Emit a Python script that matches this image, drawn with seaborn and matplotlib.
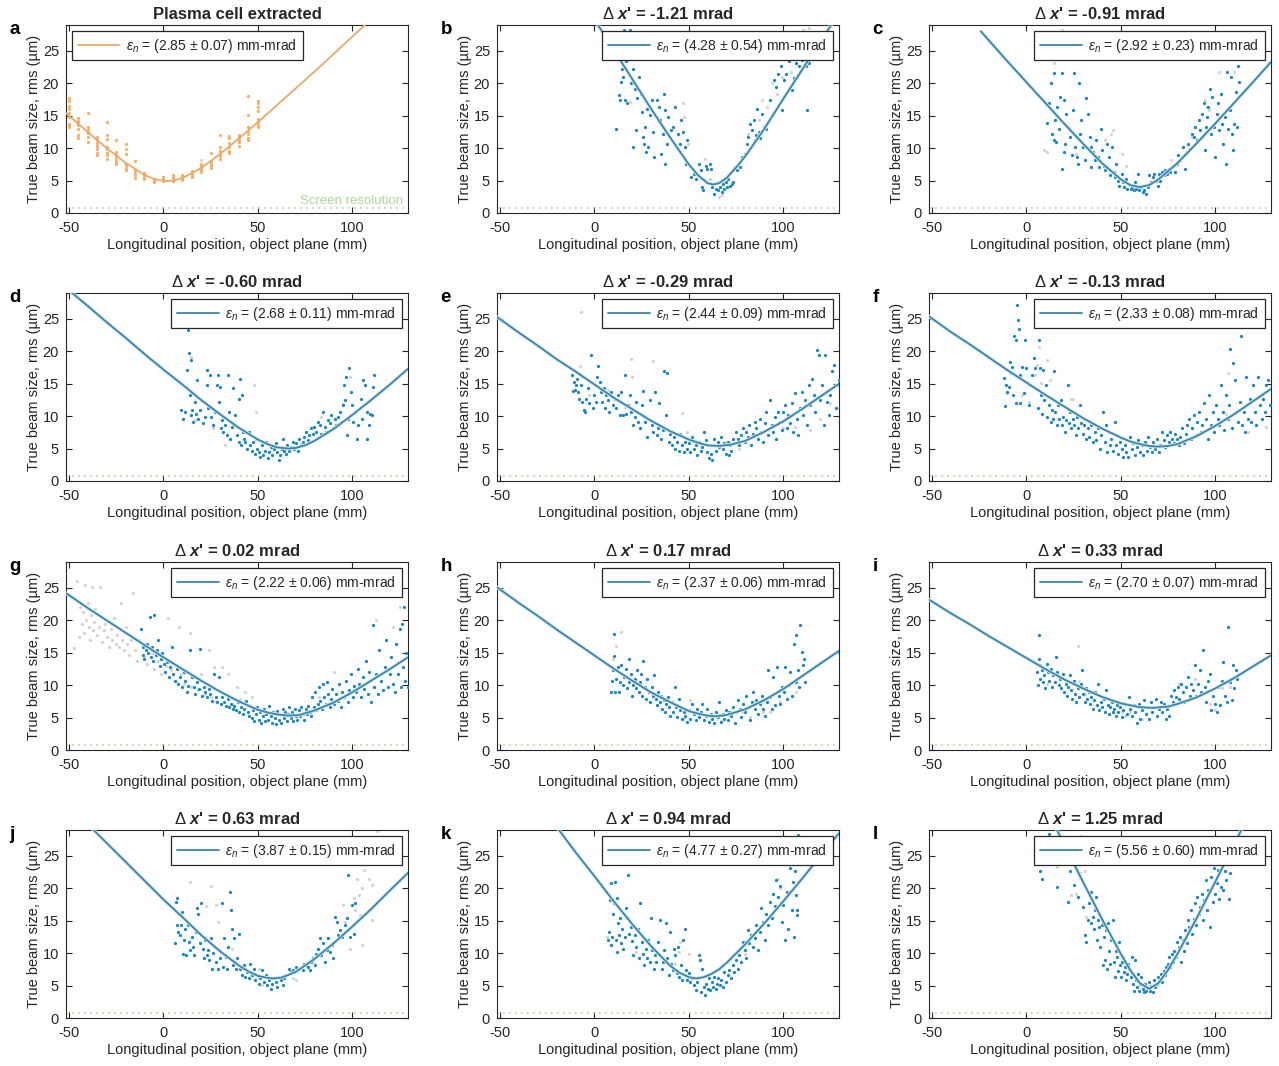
import pandas as pd
import matplotlib
matplotlib.use("Agg")
import matplotlib.pyplot as plt
import seaborn as sns

# ---------------- data ----------------
# panel a: orange shots grouped by screen position (mm), sizes in um
a_pos = [-50, -45, -40, -35, -30, -25, -20, -15, -10, -5, 0, 5, 10, 15, 20, 25, 30, 35, 40, 45, 50]
a_sizes = [
    [17.8, 17.2, 16.5, 16.0, 15.5, 14.8, 13.8, 13.5, 13.2],
    [14.7, 14.2, 13.8, 13.5, 13.0, 12.0, 11.6],
    [15.4, 13.3, 12.8, 12.3, 11.8, 11.0],
    [11.8, 11.3, 10.8, 10.3, 9.8, 9.3, 9.0],
    [14.1, 12.1, 11.4, 10.2, 9.8, 9.3, 8.9, 8.4],
    [11.3, 9.4, 9.0, 8.6, 8.2, 7.8, 7.6],
    [10.6, 9.9, 9.1, 7.6, 7.2, 6.8, 6.6],
    [8.0, 6.6, 6.2, 5.8, 5.4],
    [6.2, 5.9, 5.6, 5.3],
    [5.3, 5.0, 4.8],
    [5.6, 5.3, 5.1, 4.9],
    [5.9, 5.6, 5.3, 5.0],
    [5.9, 5.6, 5.3, 5.1],
    [6.5, 6.1, 5.8, 5.5],
    [7.6, 7.2, 7.0, 6.7, 6.4],
    [9.2, 8.0, 7.6, 7.3, 7.0],
    [12.0, 10.2, 9.6, 9.2, 8.8, 8.4],
    [11.9, 11.5, 10.8, 10.2, 9.6, 9.3],
    [12.1, 11.7, 11.3, 11.0, 10.4],
    [18.1, 15.1, 13.2, 12.6, 12.2, 11.6, 11.2],
    [17.3, 16.9, 16.3, 15.8, 14.5, 14.0, 13.6, 13.3],
]
a_grey = [(20, 8.2)]
a_fit_z = [-51.5, -40, -30, -20, -10, -5, 0, 5, 10, 20, 30, 40, 50, 60, 70, 80, 90, 100, 110]
a_fit_s = [15.4, 12.5, 10.0, 7.75, 5.9, 5.26, 4.93, 4.97, 5.37, 6.93, 9.08, 11.5, 14.0, 16.6, 19.2, 21.8, 24.5, 27.2, 29.9]

# panel b
b_pts = [(11.6, 13.0), (13, 18.2), (13.5, 17.4), (13.9, 20.2), (14.4, 22.2), (15, 21.0), (15.7, 28.2), (16.2, 17.4),
         (16.6, 23.5), (17.1, 17.0), (18.9, 28.2), (19.3, 20.0), (20.5, 22.2), (20.7, 10.2), (21.4, 19.2), (21.9, 12.8),
         (22.8, 17.8), (23.4, 21.0), (24.6, 18.4), (25.1, 15.6), (26.0, 11.7), (26.4, 10.7), (26.7, 13.3), (27.3, 9.4),
         (27.8, 16.1), (28.5, 10.2), (29.6, 15.1), (30.3, 17.4), (30.8, 12.5), (31.7, 8.6), (33.2, 17.4), (34.0, 16.4),
         (34.8, 14.3), (35.3, 9.1), (36.2, 12.2), (36.7, 18.4), (37.4, 15.9), (37.6, 7.6), (38.5, 10.7), (39.2, 14.8),
         (40.6, 12.8), (41.5, 13.3), (42.8, 16.4), (44.2, 12.2), (45.1, 10.7), (46.0, 14.3), (46.9, 12.5), (47.8, 10.2),
         (48.7, 7.6), (49.2, 11.2), (51.3, 5.5), (52.8, 6.0), (54, 5.2), (55.3, 7.6), (56.3, 6.6), (57.0, 4.0),
         (57.6, 3.5), (58.5, 5.0), (59.0, 7.3), (59.9, 6.8), (61.1, 7.6), (61.7, 6.8), (62.4, 4.0), (63.3, 2.9),
         (64.2, 3.7), (65.2, 3.5), (66.7, 4.0), (67.4, 3.2), (68.3, 4.5), (68.8, 3.7), (69.5, 4.8), (70.2, 4.0),
         (70.9, 5.3), (71.8, 4.2), (72.7, 4.5), (73.6, 4.8), (74.5, 7.1), (75.4, 6.6), (77.2, 7.1), (78.1, 8.6),
         (79.5, 9.1), (80.7, 10.7), (81.6, 11.7), (82.5, 13.8), (83.4, 12.8), (84.3, 14.3), (84.8, 11.2), (85.6, 12.0),
         (86.1, 16.1), (87.0, 12.5), (87.9, 11.5), (88.8, 15.3), (89.7, 13.3), (90.9, 13.0), (92.3, 14.3), (93.2, 17.4),
         (95.0, 20.5), (95.9, 19.5), (97.3, 21.5), (98.6, 22.6), (99.5, 15.9), (100.4, 20.5), (101.2, 21.5), (103.0, 23.4),
         (104.8, 19.0), (105.7, 20.8), (106.6, 23.1), (108.4, 22.6), (109.8, 23.6), (111.0, 23.9), (111.9, 22.6),
         (112.8, 15.9), (113.7, 23.1)]
b_grey = [(19.1, 17.1), (46.9, 16.9), (47.4, 14.8), (49.6, 10.7), (58.5, 8.4), (61.1, 5.3), (65.9, 2.4), (67.4, 2.7),
          (81.6, 12.2), (87, 14.3), (88.8, 17.4), (91.4, 16.4), (94.1, 20.0), (96.8, 18.4), (99.5, 21.0), (103.9, 21.8),
          (110.2, 28.2), (113.7, 28.5)]
b_fit_z = [0, 10, 20, 30, 40, 50, 55, 60, 63, 66, 70, 75, 80, 90, 100, 110, 120, 126]
b_fit_s = [29.9, 25.3, 20.7, 16.1, 11.7, 7.5, 5.8, 4.6, 4.4, 4.6, 5.4, 7.0, 8.8, 13.0, 17.6, 22.1, 26.6, 29.3]

# panel c
c_pts = [(11.2, 13.9), (12.1, 16.9), (12.9, 20.1), (13.5, 12.2), (14.4, 21.6), (14.7, 11.2), (15.1, 14.4), (15.8, 11.0),
         (16.5, 16.4), (17.1, 13.0), (18.0, 17.9), (18.7, 6.8), (19.1, 21.6), (19.8, 17.4), (20.1, 9.4), (20.7, 10.7),
         (21.2, 15.3), (22.3, 13.3), (23.2, 11.7), (24.1, 8.9), (24.8, 15.9), (25.5, 21.6), (25.9, 10.2), (26.6, 8.6),
         (27.3, 7.6), (27.7, 20.0), (28.6, 12.2), (29.1, 14.3), (30.0, 10.2), (30.9, 8.1), (31.8, 17.7), (32.7, 15.3),
         (33.5, 11.7), (34.0, 10.2), (34.5, 7.1), (35.4, 9.4), (36.3, 8.1), (37.1, 11.2), (37.8, 8.6), (38.5, 7.1),
         (39.4, 13.0), (40.3, 9.7), (41.0, 7.3), (41.7, 6.6), (42.6, 10.7), (43.5, 8.6), (44.4, 5.8), (45.3, 10.2),
         (46.2, 6.3), (47.1, 5.5), (47.5, 7.6), (48.6, 5.0), (49.3, 4.2), (50.4, 6.0), (51.1, 4.8), (51.8, 4.0),
         (52.5, 5.3), (53.4, 3.7), (54.3, 4.5), (55.2, 3.7), (56.1, 4.0), (56.8, 3.5), (57.6, 4.8), (58.3, 3.7),
         (59.0, 6.0), (59.7, 3.5), (60.6, 4.0), (61.5, 3.2), (62.4, 3.5), (63.3, 2.9), (64.2, 4.0), (65.1, 5.8),
         (66.0, 4.8), (66.9, 5.5), (67.8, 6.0), (68.7, 5.0), (69.6, 4.2), (70.1, 6.0), (71.0, 5.0), (71.8, 6.3),
         (72.7, 5.8), (73.6, 6.6), (74.5, 6.0), (75.4, 6.8), (76.3, 6.3), (77.3, 7.1), (78.6, 6.3), (79.5, 7.6),
         (80.4, 8.9), (81.3, 8.1), (82.2, 8.6), (83.1, 10.2), (84.0, 6.8), (84.9, 9.4), (85.8, 10.7), (86.7, 9.9),
         (87.6, 12.2), (88.5, 11.7), (89.4, 13.3), (90.3, 11.2), (91.2, 14.3), (92.1, 12.8), (93.0, 15.3), (93.9, 16.9),
         (94.4, 9.7), (95.0, 13.3), (95.7, 14.8), (96.4, 16.4), (97.1, 19.2), (97.8, 12.2), (98.4, 17.9), (99.3, 13.3),
         (100.0, 8.6), (100.7, 15.3), (101.4, 16.9), (102.2, 12.8), (102.9, 18.4), (103.6, 13.8), (104.3, 10.7),
         (105.0, 14.8), (105.6, 7.6), (106.1, 21.8), (106.8, 13.0), (107.6, 15.9), (108.3, 21.0), (108.8, 12.2),
         (109.4, 9.7), (110.1, 13.8), (110.8, 18.7), (111.5, 13.3), (112.2, 22.6), (112.8, 20.2)]
c_grey = [(9.4, 9.7), (10.8, 9.4), (14.7, 23.1), (18.7, 28.3), (26.4, 9.1), (41.7, 11.2), (44.8, 12.2), (45.7, 12.8),
          (50.7, 9.1), (52.5, 7.3), (76.8, 8.1), (87.6, 11.7), (94.8, 17.4), (95.7, 16.4), (96.6, 15.9), (102.0, 21.8),
          (109.7, 21.8)]
c_fit_z = [-24, -10, 0, 10, 20, 30, 40, 50, 55, 60, 65, 70, 80, 90, 100, 110, 120, 129.5]
c_fit_s = [28.0, 23.4, 20.2, 17.0, 13.8, 10.7, 7.7, 5.2, 4.3, 4.0, 4.3, 5.2, 7.7, 10.7, 13.8, 17.0, 20.2, 23.3]

# panel d
d_pts = [(9.5, 10.9), (10.4, 9.6), (11.3, 10.7), (12.1, 14.5), (12.7, 17.1), (13.0, 23.3), (13.4, 19.7), (13.9, 13.2),
         (14.5, 18.7), (14.8, 10.2), (15.4, 10.9), (15.9, 9.1), (16.6, 12.2), (17.5, 10.4), (18.0, 15.6), (18.4, 9.6),
         (19.3, 10.9), (20.2, 12.5), (21.1, 8.9), (22.0, 9.9), (22.9, 17.1), (23.2, 14.8), (23.8, 11.2), (24.6, 16.3),
         (25.5, 9.9), (26.4, 8.6), (27.3, 10.7), (28.2, 14.8), (28.8, 16.3), (29.5, 12.2), (30.0, 14.5), (30.5, 8.1),
         (31.3, 9.4), (31.8, 7.6), (32.7, 8.6), (33.6, 7.1), (34.5, 16.3), (34.8, 10.7), (35.4, 6.5), (36.3, 8.4),
         (37.1, 14.3), (38.0, 10.2), (38.9, 7.1), (39.8, 12.7), (40.2, 6.0), (40.7, 15.8), (41.3, 5.5), (41.6, 13.2),
         (42.1, 7.6), (42.7, 6.5), (43.4, 6.0), (44.3, 5.0), (45.2, 7.6), (46.1, 5.5), (47.0, 4.7), (47.5, 6.0),
         (48.4, 4.2), (49.1, 6.5), (49.8, 5.0), (50.5, 4.5), (51.4, 3.7), (52.3, 5.5), (53.0, 4.0), (53.8, 4.7),
         (54.5, 6.0), (55.2, 3.5), (55.9, 4.5), (56.8, 5.3), (57.7, 4.0), (58.6, 5.0), (59.5, 5.8), (60.4, 4.5),
         (61.3, 3.2), (61.8, 4.0), (62.7, 5.0), (63.4, 6.5), (64.1, 4.7), (64.8, 4.2), (65.7, 5.5), (66.6, 4.7),
         (67.5, 5.3), (68.4, 6.0), (69.3, 5.0), (70.2, 5.8), (71.1, 4.7), (72.0, 6.5), (72.9, 5.5), (73.8, 6.0),
         (74.6, 6.8), (75.5, 7.6), (76.4, 6.3), (77.3, 7.1), (78.2, 8.1), (79.1, 7.3), (80.0, 8.4), (80.9, 7.6),
         (81.8, 9.1), (82.7, 8.6), (83.6, 7.3), (84.5, 10.7), (85.4, 8.4), (86.3, 7.6), (87.1, 9.4), (88.0, 8.9),
         (88.9, 10.2), (89.8, 8.1), (90.7, 9.6), (91.6, 8.6), (92.5, 9.9), (93.4, 10.7), (94.3, 9.1), (95.2, 11.7),
         (95.7, 14.8), (96.3, 12.5), (96.6, 16.1), (97.3, 7.1), (97.9, 9.6), (98.4, 17.4), (99.1, 13.8), (99.6, 11.7),
         (100.5, 9.1), (101.4, 10.7), (102.3, 6.5), (103.2, 8.6), (104.1, 11.2), (104.6, 12.7), (105.4, 9.6),
         (105.9, 15.6), (106.8, 14.8), (107.7, 10.7), (108.0, 6.5), (108.8, 8.6), (109.5, 10.4), (110.4, 10.2),
         (110.9, 14.5), (111.6, 16.3)]
d_grey = [(14.8, 19.2), (16.6, 9.4), (26.4, 8.1), (32.7, 5.5), (47.9, 14.8), (48.8, 10.7), (83.6, 9.9), (95.2, 11.9),
          (98.8, 16.1)]
d_fit_z = [-51.5, -40, -30, -20, -10, 0, 10, 20, 30, 40, 50, 55, 60, 66, 70, 75, 80, 90, 100, 110, 120, 129.5]
d_fit_s = [29.8, 27.0, 24.5, 22.1, 19.6, 17.2, 14.9, 12.5, 10.3, 8.2, 6.4, 5.7, 5.2, 5.0, 5.1, 5.5, 6.2, 8.0, 10.2,
           12.5, 14.9, 17.3]

# panel e
e_pts = [(-11.6, 16.3), (-11.1, 13.9), (-10.7, 15.3), (-10.4, 14.0), (-9.6, 14.8), (-8.9, 15.8), (-8.6, 13.8),
         (-8.0, 12.7), (-7.1, 14.8), (-6.4, 12.2), (-5.7, 10.9), (-5.0, 10.7), (-4.3, 12.7), (-3.6, 14.3), (-2.7, 12.0),
         (-1.8, 19.5), (-0.9, 11.2), (0.0, 13.2), (0.9, 12.2), (1.4, 16.1), (2.1, 17.8), (2.9, 15.3), (3.6, 13.8),
         (4.3, 12.2), (5.0, 14.3), (5.7, 11.2), (6.4, 13.2), (7.1, 12.5), (8.0, 10.7), (8.9, 13.8), (9.8, 11.7),
         (10.7, 12.7), (11.6, 11.2), (12.5, 13.2), (13.4, 10.2), (14.3, 13.8), (15.2, 10.2), (16.1, 16.4), (17.0, 10.4),
         (17.9, 11.7), (18.8, 13.2), (19.6, 10.7), (20.5, 8.6), (21.4, 9.9), (22.3, 12.2), (23.2, 9.1), (24.1, 8.1),
         (25.0, 11.7), (25.9, 13.9), (26.8, 9.1), (27.7, 6.8), (28.6, 9.6), (29.5, 12.5), (30.4, 8.6), (31.3, 7.6),
         (32.1, 13.8), (33.0, 7.1), (33.9, 8.1), (34.5, 12.0), (35.4, 6.5), (36.1, 7.8), (37.0, 16.9), (37.7, 10.2),
         (38.4, 16.6), (39.3, 6.0), (40.2, 7.3), (41.1, 5.5), (42.0, 6.8), (42.9, 5.0), (43.8, 6.0), (44.6, 4.7),
         (45.5, 7.3), (46.4, 5.5), (47.3, 4.5), (48.2, 6.0), (49.1, 5.0), (50.0, 5.8), (50.9, 4.5), (51.8, 6.8),
         (52.7, 5.0), (53.6, 5.5), (54.5, 4.0), (55.4, 6.0), (56.3, 4.7), (57.1, 5.3), (58.0, 7.6), (58.9, 6.3),
         (59.8, 4.5), (60.7, 3.5), (61.6, 4.2), (62.1, 3.2), (62.9, 5.5), (63.6, 6.5), (64.3, 4.7), (65.2, 6.0),
         (66.1, 5.3), (67.0, 6.8), (67.9, 5.0), (68.8, 5.8), (69.6, 4.2), (70.5, 6.0), (71.1, 4.0), (71.8, 5.5),
         (72.5, 4.7), (73.2, 6.5), (74.1, 5.8), (75.0, 7.6), (75.9, 6.5), (76.8, 5.5), (77.7, 7.1), (78.6, 8.1),
         (79.5, 6.0), (80.4, 7.6), (81.3, 6.8), (82.1, 8.6), (83.0, 5.5), (83.9, 7.3), (84.8, 9.1), (85.7, 8.1),
         (86.6, 6.5), (87.5, 9.6), (88.4, 7.6), (89.3, 6.0), (90.2, 8.9), (91.1, 10.7), (92.0, 7.1), (92.9, 12.5),
         (93.8, 8.6), (94.6, 7.6), (95.5, 9.9), (96.4, 6.5), (97.3, 10.7), (98.2, 9.1), (99.1, 7.8), (100.0, 10.7),
         (100.9, 11.7), (101.8, 8.1), (102.7, 10.2), (103.6, 8.9), (104.5, 12.0), (105.4, 7.6), (106.2, 13.5),
         (107.1, 9.6), (108.0, 7.1), (108.9, 11.2), (109.8, 13.8), (110.7, 10.2), (111.6, 12.5), (112.5, 8.6),
         (113.4, 14.8), (114.3, 11.7), (115.2, 15.8), (116.1, 13.2), (117.0, 10.7), (117.9, 20.2), (118.8, 19.4),
         (119.6, 12.5), (120.5, 14.8), (121.4, 8.6), (122.3, 19.4), (123.2, 12.2), (124.1, 10.2), (125.0, 13.2),
         (125.9, 16.9), (126.8, 17.9), (127.7, 11.2), (128.6, 14.8), (129.3, 15.6)]
e_grey = [(-6.8, 26.0), (-7.5, 17.7), (-2.7, 13.2), (7.1, 14.0), (16.1, 11.2), (19.6, 18.8), (20.0, 16.1), (31.3, 18.5),
          (46.4, 10.5), (49.1, 7.6), (67.9, 5.5), (76.8, 5.0), (100, 8.1), (106.2, 8.4), (114.3, 7.8), (119.6, 9.6),
          (125, 12.0)]
e_fit_z = [-51.5, -40, -30, -20, -10, 0, 10, 20, 30, 40, 50, 55, 60, 66, 72, 80, 90, 100, 110, 120, 129.5]
e_fit_s = [25.3, 22.9, 20.9, 18.8, 16.9, 14.9, 12.9, 11.1, 9.3, 7.7, 6.4, 5.9, 5.5, 5.4, 5.6, 6.2, 7.6, 9.2, 11.1,
           13.1, 15.0]

# panel f
f_pts = [(-11.6, 15.9), (-11.3, 11.6), (-10.7, 14.8), (-10.0, 13.8), (-9.3, 14.5), (-8.6, 18.4), (-8.0, 16.6),
         (-7.5, 17.6), (-6.8, 13.2), (-6.3, 22.4), (-5.7, 21.8), (-5.4, 12.0), (-5.0, 27.2), (-4.5, 24.8), (-4.1, 23.5),
         (-3.6, 12.0), (-3.2, 16.3), (-2.3, 17.6), (-1.4, 13.5), (-0.5, 21.8), (0.0, 17.4), (0.7, 15.1), (1.4, 11.7),
         (2.1, 14.8), (3.0, 16.3), (3.9, 18.9), (4.8, 17.4), (5.4, 14.2), (6.1, 11.2), (6.6, 21.8), (7.1, 17.4),
         (7.9, 13.2), (8.4, 10.4), (8.9, 17.1), (9.6, 12.5), (10.4, 14.8), (11.1, 9.9), (12.0, 11.7), (12.9, 9.1),
         (13.4, 10.9), (14.1, 9.6), (14.6, 16.9), (15.4, 10.7), (16.1, 8.6), (16.8, 11.7), (17.5, 9.6), (18.2, 12.5),
         (18.9, 8.6), (19.6, 9.9), (20.4, 7.6), (21.1, 9.4), (21.8, 14.8), (22.5, 8.9), (23.2, 10.7), (23.9, 8.1),
         (24.6, 9.6), (25.4, 8.6), (26.1, 7.1), (26.8, 9.9), (27.5, 8.1), (28.2, 11.7), (28.9, 8.9), (29.8, 7.3),
         (30.7, 8.6), (31.6, 6.5), (32.5, 8.1), (33.4, 6.8), (34.3, 8.6), (35.2, 6.0), (36.1, 7.6), (37.0, 6.3),
         (37.9, 8.1), (38.8, 5.0), (39.6, 7.1), (40.5, 10.7), (41.4, 6.0), (42.3, 8.6), (42.9, 4.5), (43.6, 7.6),
         (44.3, 5.5), (45.0, 6.5), (45.9, 4.7), (46.8, 9.1), (47.7, 5.5), (48.6, 4.2), (49.5, 6.0), (50.4, 5.0),
         (51.3, 3.7), (52.1, 5.5), (53.0, 4.5), (53.9, 3.7), (54.8, 6.8), (55.7, 5.0), (56.6, 5.8), (57.5, 4.0),
         (58.4, 5.3), (59.3, 6.3), (60.2, 4.5), (61.1, 5.5), (62.0, 4.0), (62.9, 6.0), (63.8, 4.7), (64.6, 6.8),
         (65.5, 5.3), (66.4, 4.5), (67.3, 6.0), (68.2, 5.0), (69.1, 6.5), (70.0, 4.5), (70.9, 5.5), (71.8, 7.6),
         (72.7, 6.3), (73.6, 5.3), (74.5, 7.1), (75.4, 6.0), (76.3, 7.6), (77.1, 6.5), (78.0, 5.8), (78.9, 7.3),
         (79.8, 6.5), (80.7, 5.5), (81.6, 6.8), (82.5, 8.1), (83.4, 5.8), (84.3, 7.3), (85.2, 8.6), (86.1, 9.6),
         (87.0, 6.5), (87.9, 8.1), (88.8, 10.2), (89.6, 7.1), (90.5, 9.1), (91.4, 10.7), (92.3, 7.6), (93.2, 8.6),
         (94.1, 12.0), (95.0, 9.6), (95.9, 6.5), (96.8, 13.2), (97.7, 8.6), (98.6, 10.7), (99.5, 7.6), (100.4, 11.7),
         (101.3, 9.6), (102.1, 8.6), (103.0, 14.8), (103.9, 10.7), (104.8, 7.8), (105.7, 13.2), (106.6, 9.6),
         (107.5, 11.7), (108.0, 20.4), (108.9, 8.1), (109.6, 18.2), (110.4, 15.6), (111.1, 10.7), (112.0, 9.1),
         (112.9, 12.2), (113.4, 22.3), (114.1, 8.6), (115.0, 10.7), (115.7, 7.6), (116.4, 16.1), (117.3, 9.6),
         (118.2, 12.7), (119.1, 9.1), (120.0, 14.8), (120.9, 10.7), (121.8, 8.6), (122.7, 16.1), (123.6, 11.7),
         (124.5, 9.6), (125.4, 12.7), (126.3, 10.7), (127.1, 14.8), (128.0, 15.6), (128.9, 11.7)]
f_grey = [(-10, 13.5), (-2.3, 13.2), (1.2, 12.2), (4.8, 16.3), (5.4, 17.9), (6.6, 20.6), (7.9, 15.1), (10.7, 18.7),
          (12.5, 15.6), (23.6, 12.7), (24.5, 12.7), (106.6, 16.6), (105.7, 10.4), (117.3, 7.6), (127.1, 8.4)]
f_fit_z = [-51.5, -40, -30, -20, -10, 0, 10, 20, 30, 40, 50, 55, 60, 65, 70, 75, 80, 90, 100, 110, 120, 129.5]
f_fit_s = [25.4, 23.0, 21.1, 19.1, 17.1, 15.2, 13.3, 11.5, 9.7, 8.1, 6.7, 6.1, 5.7, 5.4, 5.3, 5.4, 5.7, 6.9, 8.5,
           10.3, 12.3, 14.2]

# panel g
g_pts = [(-11.6, 18.7), (-11.0, 15.9), (-10.5, 14.6), (-10.1, 14.1), (-9.4, 15.4), (-8.7, 16.4), (-7.9, 14.9),
         (-7.3, 20.5), (-6.6, 14.3), (-6.0, 15.9), (-5.3, 13.8), (-4.8, 20.8), (-4.1, 14.6), (-3.4, 15.4), (-2.7, 16.9),
         (-2.0, 13.0), (-1.2, 14.1), (-0.5, 14.9), (0.2, 13.3), (1.1, 12.0), (2.0, 13.6), (2.8, 11.2), (3.7, 12.8),
         (4.4, 15.9), (5.3, 11.7), (6.2, 10.7), (7.1, 12.5), (8.0, 10.2), (8.9, 11.2), (9.8, 9.7), (10.7, 12.0),
         (11.6, 10.7), (12.5, 8.9), (13.3, 9.9), (14.2, 15.4), (15.1, 11.2), (16.0, 9.7), (16.9, 8.6), (17.8, 10.5),
         (18.7, 9.4), (19.6, 15.6), (20.5, 8.4), (21.4, 9.7), (22.2, 8.9), (23.1, 8.1), (24.0, 9.4), (24.9, 8.6),
         (25.8, 7.6), (26.9, 11.7), (27.8, 8.1), (28.6, 7.4), (29.5, 11.2), (30.4, 7.1), (31.3, 8.1), (32.2, 7.4),
         (33.1, 6.8), (34.0, 7.9), (34.9, 6.6), (35.8, 7.1), (36.7, 6.3), (37.5, 6.8), (38.4, 6.1), (39.3, 7.4),
         (40.2, 5.8), (41.1, 6.6), (42.0, 5.5), (42.9, 6.3), (43.8, 7.6), (44.7, 5.8), (45.4, 5.3), (46.1, 6.8),
         (46.8, 5.0), (47.5, 6.1), (48.2, 4.5), (48.9, 5.5), (49.6, 6.6), (50.4, 4.7), (51.1, 5.8), (51.8, 4.2),
         (52.5, 5.3), (53.2, 6.3), (53.9, 4.5), (54.6, 5.5), (55.3, 4.7), (56.0, 6.8), (56.8, 5.3), (57.5, 4.2),
         (58.2, 5.8), (58.9, 5.0), (59.6, 4.0), (60.3, 6.0), (61.0, 4.7), (61.7, 5.5), (62.5, 4.2), (63.2, 6.3),
         (63.9, 5.0), (64.6, 5.8), (65.3, 4.5), (66.0, 5.5), (66.7, 6.6), (67.4, 5.0), (68.1, 5.8), (68.9, 4.5),
         (69.6, 6.3), (70.3, 5.3), (71.0, 4.7), (71.7, 6.1), (72.4, 5.3), (73.1, 6.6), (73.8, 5.5), (74.6, 4.7),
         (75.3, 6.3), (76.0, 5.5), (76.7, 6.8), (77.4, 5.8), (78.1, 5.3), (78.8, 8.1), (79.5, 6.6), (80.2, 8.9),
         (81.0, 6.1), (81.7, 7.1), (82.4, 9.7), (83.1, 7.6), (83.8, 6.3), (84.5, 10.2), (85.2, 8.1), (85.9, 7.1),
         (86.7, 10.5), (87.4, 8.6), (88.1, 6.6), (88.8, 7.9), (89.5, 9.4), (90.4, 7.1), (91.3, 8.6), (92.2, 7.6),
         (93.1, 10.2), (94.0, 6.6), (94.8, 8.9), (95.7, 8.1), (96.6, 10.7), (97.5, 7.4), (98.4, 9.2), (99.3, 11.7),
         (100.2, 8.1), (101.1, 9.9), (102.0, 8.9), (102.8, 12.5), (103.7, 10.2), (104.6, 8.1), (105.5, 11.2),
         (106.4, 9.4), (107.3, 13.8), (108.2, 8.6), (109.1, 12.0), (110.0, 7.4), (110.9, 19.3), (111.7, 9.7),
         (112.6, 11.7), (113.5, 8.6), (114.4, 15.4), (115.3, 10.7), (116.2, 9.2), (117.1, 12.8), (118.0, 16.9),
         (118.9, 9.7), (119.8, 11.7), (120.6, 14.3), (121.5, 10.2), (122.4, 8.9), (123.3, 16.4), (124.2, 11.7),
         (125.1, 18.7), (125.6, 9.7), (126.2, 19.5), (126.9, 12.8), (127.4, 22.1), (128.0, 10.7), (128.6, 14.9),
         (129.3, 9.7)]
g_grey = [(-47.5, 15.8), (-45.7, 26.0), (-44.8, 17.4), (-43.9, 22.1), (-43.1, 19.5), (-42.5, 21.3), (-41.8, 18.0),
          (-41.3, 25.5), (-40.7, 20.0), (-40.0, 22.6), (-39.5, 19.0), (-39.0, 16.9), (-38.3, 20.8), (-37.7, 25.2),
          (-37.2, 18.5), (-36.5, 19.8), (-36.0, 21.8), (-35.1, 17.7), (-34.2, 19.0), (-33.6, 25.2), (-32.9, 20.5),
          (-32.2, 16.7), (-31.5, 18.5), (-30.6, 19.5), (-29.7, 17.4), (-28.8, 15.9), (-27.9, 18.7), (-27.0, 16.9),
          (-26.2, 20.3), (-25.3, 16.4), (-24.4, 17.7), (-23.5, 15.9), (-22.6, 22.6), (-21.7, 16.9), (-20.8, 15.4),
          (-19.9, 19.0), (-19.0, 16.4), (-18.1, 14.6), (-17.3, 16.9), (-15.8, 24.2), (-15.1, 15.4), (-14.1, 13.8),
          (-12.8, 16.9), (-10.1, 14.3), (-8.4, 13.3), (-6.2, 14.9), (-4.8, 12.5), (-2.7, 13.8), (-1.2, 11.7),
          (1.4, 13.0), (2.3, 20.3), (4.1, 12.3), (6.8, 10.7), (8.5, 19.0), (9.4, 11.7), (11.2, 10.2), (13.9, 18.0),
          (14.8, 9.7), (16.5, 11.2), (18.3, 9.2), (20.1, 11.7), (21.9, 8.6), (24.0, 15.4), (25.4, 8.1), (26.9, 12.8),
          (28.1, 7.6), (30.8, 12.8), (32.6, 8.6), (34.3, 11.7), (36.1, 7.1), (38.8, 9.7), (40.6, 7.9), (43.2, 8.9),
          (46.8, 8.1), (82.4, 8.1), (90.4, 12.0), (100.2, 9.2), (112.6, 20.0), (121.5, 19.0), (125.1, 22.1)]
g_fit_z = [-51.5, -40, -30, -20, -10, 0, 10, 20, 30, 40, 50, 55, 60, 66, 72, 80, 90, 100, 110, 120, 129.5]
g_fit_s = [24.2, 21.9, 20.0, 18.1, 16.2, 14.3, 12.5, 10.7, 9.0, 7.5, 6.2, 5.8, 5.5, 5.3, 5.4, 6.1, 7.3, 8.9, 10.7,
           12.5, 14.3]

# panel h
h_pts = [(8.8, 9.0), (9.1, 10.7), (9.7, 12.3), (10.2, 14.5), (10.6, 17.9), (11.1, 8.9), (11.6, 11.0), (12.4, 12.8),
         (12.9, 8.9), (13.4, 10.5), (14.2, 13.1), (14.7, 11.8), (15.4, 10.0), (15.9, 11.3), (16.7, 12.5), (17.4, 9.5),
         (18.1, 14.1), (18.6, 10.5), (19.2, 11.8), (19.9, 8.4), (20.6, 10.0), (21.3, 11.0), (22.0, 9.5), (22.8, 12.3),
         (23.5, 8.9), (24.2, 10.5), (24.9, 11.8), (25.4, 8.4), (26.0, 13.8), (26.7, 9.7), (27.4, 7.9), (28.1, 11.0),
         (28.9, 8.9), (29.6, 7.4), (30.3, 9.7), (31.0, 8.4), (31.7, 11.5), (32.4, 7.9), (33.2, 6.9), (33.9, 8.9),
         (34.6, 7.4), (35.3, 8.4), (36.0, 6.4), (36.7, 7.7), (37.5, 5.9), (38.2, 7.1), (38.9, 8.2), (39.6, 6.6),
         (40.3, 5.3), (41.0, 7.4), (41.8, 5.9), (42.5, 9.7), (43.2, 6.6), (43.9, 5.1), (44.6, 7.9), (45.5, 6.1),
         (46.4, 4.8), (47.3, 5.9), (48.2, 5.3), (49.1, 4.3), (50.0, 6.1), (50.9, 4.8), (51.8, 7.1), (52.7, 5.6),
         (53.6, 4.6), (54.5, 6.4), (55.4, 5.1), (56.3, 5.9), (57.2, 7.1), (58.1, 4.6), (59.0, 5.3), (59.9, 6.4),
         (60.8, 4.3), (61.6, 5.6), (62.5, 4.8), (63.4, 4.1), (64.3, 5.9), (65.2, 5.1), (66.1, 7.4), (67.0, 4.3),
         (67.9, 5.6), (68.8, 4.8), (69.7, 6.1), (70.6, 4.6), (71.5, 5.9), (72.4, 5.3), (73.3, 6.6), (74.2, 4.1),
         (75.1, 5.9), (76.0, 7.7), (76.9, 6.4), (77.8, 5.1), (78.7, 7.1), (79.6, 5.9), (80.5, 8.4), (81.4, 6.6),
         (82.3, 4.6), (83.2, 7.4), (84.1, 8.9), (84.9, 6.4), (85.8, 7.7), (86.7, 5.6), (87.6, 7.1), (88.5, 8.4),
         (89.4, 6.4), (90.3, 5.3), (91.2, 7.4), (92.1, 12.3), (93.0, 8.2), (93.9, 6.4), (94.8, 11.3), (95.7, 6.9),
         (96.6, 12.8), (97.5, 8.4), (98.4, 7.1), (99.3, 9.7), (100.2, 8.9), (101.1, 12.8), (102.0, 7.9), (102.9, 10.0),
         (103.8, 12.0), (104.7, 8.4), (105.6, 16.4), (106.5, 10.5), (107.0, 17.8), (107.7, 12.3), (108.2, 9.7),
         (109.1, 19.3), (109.7, 15.1), (110.2, 13.1), (110.9, 14.1), (111.5, 10.5)]
h_grey = [(11.5, 16.0), (14.2, 18.2), (9.7, 14.1), (50.9, 7.7), (47.3, 4.9), (67, 4.5), (78.7, 5.9), (82.3, 5.1),
          (89.4, 5.9), (93, 5.8), (98.4, 7.4), (107, 8.9)]
h_fit_z = [-51.5, -40, -30, -20, -10, 0, 10, 20, 30, 40, 50, 55, 60, 64, 70, 80, 90, 100, 110, 120, 129.5]
h_fit_s = [25.1, 22.7, 20.7, 18.6, 16.6, 14.6, 12.6, 10.7, 8.9, 7.4, 6.0, 5.6, 5.3, 5.2, 5.4, 6.3, 7.7, 9.4, 11.4,
           13.4, 15.3]

# panel i
i_pts = [(5.7, 12.0), (6.1, 10.0), (6.5, 17.8), (6.8, 14.1), (7.2, 11.0), (7.5, 13.1), (8.1, 12.3), (8.6, 10.5),
         (9.3, 11.5), (10.0, 9.5), (10.8, 13.3), (11.5, 12.0), (12.2, 10.7), (12.9, 12.5), (13.6, 9.7), (14.3, 11.5),
         (15.1, 10.5), (15.8, 14.3), (16.5, 12.0), (17.2, 10.0), (17.9, 11.0), (18.6, 9.5), (19.4, 11.8), (20.1, 8.9),
         (20.8, 10.2), (21.5, 8.4), (22.2, 9.7), (22.9, 11.5), (23.7, 9.2), (24.4, 7.9), (25.1, 10.7), (25.8, 8.7),
         (26.5, 7.4), (27.2, 9.5), (28.0, 8.2), (28.7, 10.2), (29.4, 12.3), (30.1, 8.7), (30.8, 7.4), (31.5, 9.5),
         (32.3, 7.9), (33.0, 8.9), (33.7, 7.1), (34.4, 8.2), (35.1, 6.4), (35.8, 7.7), (36.6, 8.9), (37.3, 6.9),
         (38.0, 10.2), (38.7, 6.1), (39.4, 7.4), (40.1, 6.6), (40.9, 7.9), (41.6, 5.9), (42.3, 9.2), (43.0, 6.9),
         (43.7, 5.6), (44.4, 6.6), (45.2, 7.4), (45.9, 5.9), (46.6, 6.4), (47.3, 5.3), (48.0, 6.9), (48.7, 5.9),
         (49.6, 6.6), (50.5, 5.1), (51.4, 6.1), (52.3, 7.1), (53.2, 5.6), (54.1, 8.2), (55.0, 6.4), (55.9, 5.3),
         (56.8, 6.9), (57.7, 5.9), (58.6, 4.1), (59.5, 7.1), (60.4, 4.8), (61.3, 6.1), (62.2, 7.7), (63.1, 5.6),
         (64.0, 6.6), (64.9, 4.8), (65.8, 7.4), (66.7, 5.9), (67.6, 6.6), (68.5, 7.9), (69.4, 5.3), (70.3, 6.4),
         (71.1, 7.4), (72.0, 5.9), (72.9, 7.1), (73.8, 4.8), (74.7, 6.4), (75.6, 5.3), (76.5, 8.4), (77.4, 7.4),
         (78.3, 9.2), (79.2, 8.2), (80.1, 9.7), (81.0, 7.9), (81.9, 10.2), (82.8, 8.9), (83.7, 7.4), (84.6, 9.7),
         (85.5, 11.3), (86.4, 8.4), (87.3, 10.2), (88.2, 9.2), (89.1, 13.1), (90.0, 8.4), (90.9, 10.2), (91.8, 12.3),
         (92.6, 8.9), (93.5, 15.5), (94.4, 9.7), (95.3, 7.4), (96.2, 10.7), (97.1, 11.8), (98.0, 6.1), (98.9, 8.4),
         (99.8, 7.1), (100.7, 5.9), (101.6, 9.7), (102.5, 6.9), (103.4, 10.7), (104.3, 13.6), (105.2, 8.4),
         (106.1, 7.4), (107.0, 19.0), (107.9, 10.5), (108.8, 7.7), (109.3, 13.1), (110.0, 9.5), (110.8, 12.3),
         (111.5, 11.0)]
i_grey = [(11.1, 10.2), (25.4, 10.6), (27.6, 16.0), (28.1, 10.7), (30.8, 8.7), (50.5, 5.9), (52.3, 5.3), (55.0, 5.9),
          (61.3, 4.8), (81.0, 10.2), (89.1, 11.0), (97.1, 7.1), (99.8, 6.1), (103.4, 9.5), (107.9, 9.7)]
i_fit_z = [-51.5, -40, -30, -20, -10, 0, 10, 20, 30, 40, 50, 55, 60, 67, 75, 80, 90, 100, 110, 120, 129.5]
i_fit_s = [23.2, 21.1, 19.4, 17.6, 15.9, 14.2, 12.5, 10.9, 9.5, 8.2, 7.2, 6.9, 6.6, 6.5, 6.7, 7.1, 8.1, 9.5, 11.1,
           12.9, 14.6]

# panel j
j_pts = [(6.1, 11.5), (6.6, 17.9), (7.2, 14.3), (7.5, 18.5), (7.9, 13.3), (8.4, 16.1), (9.0, 12.8), (9.5, 14.3),
         (10.0, 16.4), (10.6, 9.9), (11.1, 12.0), (11.6, 13.8), (12.2, 9.7), (12.9, 14.3), (13.6, 11.8), (14.3, 10.5),
         (15.1, 12.5), (15.8, 11.0), (16.5, 9.7), (17.2, 13.3), (17.9, 17.0), (18.6, 16.1), (19.4, 11.5), (20.1, 17.8),
         (20.8, 10.7), (21.5, 9.2), (22.2, 12.0), (22.9, 9.7), (23.7, 10.5), (24.4, 8.9), (25.1, 12.3), (25.8, 7.6),
         (26.5, 10.0), (27.2, 11.0), (28.0, 8.7), (28.7, 7.6), (29.4, 10.5), (30.1, 9.2), (30.8, 17.7), (31.5, 7.9),
         (32.3, 12.3), (33.0, 9.4), (33.7, 7.6), (34.4, 11.0), (35.1, 19.5), (35.7, 16.6), (36.2, 13.8), (36.9, 8.1),
         (37.6, 12.3), (38.4, 7.6), (39.1, 9.2), (39.8, 13.0), (40.7, 7.6), (41.6, 6.6), (42.5, 8.1), (43.4, 6.3),
         (44.3, 7.1), (45.2, 6.1), (46.1, 8.4), (47.0, 6.6), (47.8, 7.6), (48.7, 5.8), (49.6, 6.6), (50.5, 5.3),
         (51.4, 6.1), (52.3, 7.4), (53.2, 5.6), (54.1, 6.6), (55.0, 5.1), (55.9, 5.8), (56.8, 4.5), (57.7, 5.3),
         (58.6, 6.1), (59.5, 5.6), (60.4, 4.8), (61.3, 6.3), (62.2, 5.8), (63.1, 5.1), (64.0, 6.1), (64.9, 6.6),
         (66.7, 7.6), (67.6, 7.1), (68.5, 7.4), (70.3, 7.9), (72.0, 7.6), (73.8, 7.4), (74.7, 8.4), (75.6, 8.1),
         (76.5, 7.9), (77.4, 7.4), (78.3, 8.7), (79.2, 9.2), (80.1, 8.1), (81.0, 9.9), (81.9, 10.7), (82.8, 12.3),
         (83.7, 9.7), (84.6, 11.5), (85.5, 8.7), (86.4, 10.5), (87.3, 12.3), (88.2, 10.2), (89.1, 11.3), (90.0, 9.2),
         (90.9, 15.6), (91.8, 14.8), (92.7, 12.8), (93.5, 13.6), (94.4, 12.5), (95.3, 13.0), (96.2, 14.3), (97.1, 15.4),
         (98.0, 22.1), (98.9, 12.5), (99.8, 17.4), (100.7, 13.0), (101.6, 17.7)]
j_grey = [(14.3, 21.0), (17.4, 13.3), (21.9, 12.5), (22.8, 17.2), (25.1, 20.3), (28.1, 17.5), (29.0, 14.8), (36.2, 10.7),
          (50.5, 7.6), (52.3, 5.1), (68.5, 6.1), (70.3, 5.8), (79.2, 8.7), (86.4, 12.3), (95, 17.4), (96.2, 14.8),
          (98.9, 10.7), (100.7, 18.5), (102.5, 21.5), (104.3, 15.9), (105.2, 11.2), (106.1, 22.8), (107.0, 24.9),
          (108.8, 21.5), (110.6, 20.5), (110.6, 15.1), (113.3, 28.8), (103.4, 19.0), (101.6, 16.6), (105.2, 20.0)]
j_fit_z = [-40, -30, -20, -10, 0, 10, 20, 30, 40, 45, 50, 55, 58, 62, 65, 70, 80, 90, 100, 110, 120, 129.5]
j_fit_s = [29.9, 27.0, 24.1, 21.2, 18.3, 15.6, 12.8, 10.3, 8.1, 7.2, 6.5, 6.2, 6.1, 6.2, 6.5, 7.1, 9.1, 11.5, 14.1,
           16.8, 19.7, 22.4]

# panel k
k_pts = [(7.1, 12.0), (7.7, 13.3), (8.2, 18.2), (8.6, 11.2), (8.9, 20.8), (9.3, 12.5), (9.8, 16.1), (10.4, 17.7),
         (10.7, 21.0), (11.3, 12.0), (11.8, 18.5), (12.1, 10.2), (12.5, 14.7), (13.0, 12.8), (13.6, 15.5), (14.3, 11.5),
         (14.8, 13.8), (15.4, 10.6), (16.1, 12.5), (16.8, 16.9), (17.5, 15.4), (18.0, 22.1), (18.6, 13.0), (19.3, 14.1),
         (20.0, 11.9), (20.7, 9.7), (21.4, 12.8), (22.1, 11.0), (22.9, 13.8), (23.6, 9.2), (24.3, 17.7), (25.0, 11.8),
         (25.7, 9.9), (26.4, 8.1), (27.1, 10.7), (27.9, 9.2), (28.6, 12.0), (29.3, 8.7), (30.0, 15.4), (30.7, 10.5),
         (31.4, 7.6), (32.1, 9.7), (32.9, 8.7), (33.6, 11.8), (34.3, 9.9), (35.0, 15.1), (35.7, 7.6), (36.4, 8.7),
         (37.1, 10.5), (37.9, 14.6), (38.6, 9.2), (39.3, 6.6), (40.0, 13.3), (40.7, 8.4), (41.4, 7.4), (42.1, 10.7),
         (42.9, 9.7), (43.6, 6.9), (44.3, 11.0), (45.0, 6.3), (45.7, 8.1), (46.4, 5.8), (47.1, 12.0), (47.9, 13.8),
         (48.6, 7.4), (49.3, 5.8), (50.0, 6.9), (50.9, 5.6), (51.8, 6.1), (52.7, 5.1), (53.6, 4.3), (54.5, 5.6),
         (55.4, 9.7), (55.9, 8.9), (56.4, 4.0), (57.1, 7.6), (57.9, 4.8), (58.6, 3.5), (59.3, 5.3), (60.0, 4.5),
         (60.7, 6.1), (61.4, 4.3), (62.1, 5.6), (62.9, 4.8), (63.6, 6.3), (64.3, 4.5), (65.0, 5.3), (65.7, 6.1),
         (66.4, 5.1), (67.1, 5.8), (67.9, 4.8), (68.8, 7.1), (69.6, 5.6), (70.5, 6.6), (71.4, 7.4), (72.3, 6.1),
         (73.2, 8.1), (74.1, 7.1), (75.0, 8.9), (75.9, 7.6), (76.8, 9.7), (77.7, 8.7), (78.6, 11.8), (79.5, 10.5),
         (80.4, 9.2), (81.3, 13.6), (82.1, 11.5), (83.0, 12.8), (83.9, 11.0), (84.8, 12.3), (85.7, 14.3), (86.6, 10.5),
         (87.5, 13.3), (88.4, 16.9), (89.3, 14.8), (90.2, 12.0), (91.1, 16.1), (92.0, 14.3), (92.9, 17.9), (93.8, 15.4),
         (94.6, 19.2), (95.5, 17.2), (96.4, 21.3), (97.3, 18.7), (98.2, 20.3), (99.1, 14.8), (100.0, 17.4),
         (100.9, 12.0), (101.8, 19.5), (102.7, 13.8), (103.6, 23.1), (104.5, 16.6), (105.4, 21.0), (105.9, 12.5),
         (106.4, 22.6), (106.8, 19.0), (107.1, 15.9), (107.5, 16.6), (108.0, 28.2)]
k_grey = [(6.6, 12.5), (8.9, 11.2), (22.3, 10.2), (42.9, 8.4), (44.6, 10.2), (45.5, 11.8), (50.0, 9.9), (76.8, 10.5),
          (79.5, 9.9), (97.3, 21.5), (98.2, 20.0)]
k_fit_z = [-20, -10, 0, 10, 20, 30, 40, 45, 50, 54, 58, 62, 66, 70, 80, 90, 100, 110, 120, 129.5]
k_fit_s = [29.5, 25.6, 21.9, 18.1, 14.5, 11.1, 8.1, 7.0, 6.3, 6.1, 6.3, 6.8, 7.5, 8.5, 11.4, 14.6, 18.0, 21.5, 25.1,
           28.5]

# panel l
l_pts = [(7.0, 22.6), (8.1, 21.5), (12.1, 28.4), (16.5, 20.2), (21.9, 17.9), (23.2, 22.7), (25.5, 20.5), (27.3, 18.7),
         (28.6, 21.8), (30.0, 17.1), (30.9, 12.8), (31.8, 11.7), (32.7, 15.1), (33.3, 17.7), (34.0, 14.6), (34.5, 19.5),
         (35.1, 15.6), (35.6, 13.8), (36.3, 16.6), (36.9, 18.7), (37.4, 12.0), (38.1, 15.1), (38.7, 14.0), (39.2, 11.0),
         (39.9, 14.3), (40.5, 8.1), (41.0, 12.5), (41.7, 8.9), (42.3, 13.5), (42.8, 7.6), (43.3, 14.6), (43.9, 10.4),
         (44.4, 8.4), (45.0, 12.0), (45.7, 15.1), (46.2, 8.6), (46.8, 6.3), (47.3, 10.4), (47.8, 9.4), (48.4, 7.3),
         (48.9, 11.7), (49.5, 8.1), (50.0, 6.3), (50.5, 8.6), (51.1, 9.4), (51.6, 7.1), (52.2, 7.9), (52.7, 5.8),
         (53.2, 6.8), (53.8, 8.4), (54.3, 7.6), (55.2, 6.3), (55.8, 9.4), (56.5, 5.3), (57.0, 4.2), (57.6, 8.9),
         (58.1, 5.8), (58.6, 4.8), (59.2, 6.8), (59.7, 4.2), (60.3, 5.3), (60.8, 6.3), (61.5, 4.5), (62.2, 4.0),
         (62.8, 5.3), (63.3, 4.2), (64.0, 4.8), (64.7, 5.5), (65.5, 4.2), (66.2, 5.0), (66.9, 4.0), (67.6, 5.8),
         (68.3, 4.8), (69.1, 5.3), (69.8, 6.3), (70.5, 5.8), (71.2, 6.8), (71.9, 5.5), (72.7, 7.3), (73.4, 6.6),
         (74.1, 7.9), (74.8, 8.4), (75.5, 9.4), (76.3, 7.9), (77.0, 9.9), (77.7, 8.6), (78.4, 10.4), (79.1, 9.4),
         (79.9, 11.7), (80.6, 11.0), (81.3, 12.5), (82.0, 8.6), (82.7, 12.0), (83.5, 10.4), (84.2, 13.5), (84.9, 11.5),
         (85.6, 15.1), (86.3, 14.0), (87.1, 16.6), (87.8, 13.0), (88.5, 15.3), (89.2, 17.7), (89.9, 14.3), (90.6, 18.7),
         (91.4, 16.1), (92.1, 17.1), (92.8, 19.2), (93.5, 15.1), (94.2, 18.2), (95.0, 21.3), (95.7, 16.6), (96.4, 19.7),
         (97.1, 14.0), (97.8, 21.8), (98.6, 17.9), (99.3, 23.1), (100.0, 19.2), (100.7, 20.8), (101.4, 22.8),
         (102.2, 18.4), (102.9, 20.2), (103.6, 24.1), (104.3, 19.7), (105.0, 22.6), (105.8, 21.3), (106.5, 24.9),
         (107.2, 18.4), (107.9, 22.3)]
l_grey = [(16.5, 23.3), (23.7, 19.0), (26.4, 19.2), (28.2, 22.3), (29.1, 28.0), (30.9, 22.6), (31.5, 15.6),
          (32.4, 25.9), (33.6, 23.9)]
l_fit_z = [15, 20, 30, 40, 50, 55, 60, 65, 70, 75, 80, 90, 100, 110, 115]
l_fit_s = [29.7, 26.8, 21.0, 15.3, 9.9, 7.4, 5.4, 4.5, 5.4, 7.4, 9.9, 15.3, 21.0, 26.8, 29.7]

letters = list("abcdefghijkl")
kicks = [None, "-1.21", "-0.91", "-0.60", "-0.29", "-0.13", "0.02", "0.17", "0.33", "0.63", "0.94", "1.25"]
emit = ["2.85", "4.28", "2.92", "2.68", "2.44", "2.33", "2.22", "2.37", "2.70", "3.87", "4.77", "5.56"]
emit_err = ["0.07", "0.54", "0.23", "0.11", "0.09", "0.08", "0.06", "0.06", "0.07", "0.15", "0.27", "0.60"]
screen_res = 0.8

# ---------------- style ----------------
sns.set_theme(style="ticks")
plt.rcParams["font.family"] = ["Liberation Sans", "DejaVu Sans"]
plt.rcParams["font.sans-serif"] = ["Liberation Sans", "DejaVu Sans"]
plt.rcParams["mathtext.fontset"] = "custom"
plt.rcParams["mathtext.rm"] = "Liberation Sans"
plt.rcParams["mathtext.it"] = "Liberation Sans:italic"
plt.rcParams["mathtext.bf"] = "Liberation Sans:bold"
try:
    plt.rcParams["mathtext.bfit"] = "Liberation Sans:italic:bold"
except KeyError:
    pass
plt.rcParams["axes.unicode_minus"] = False

BLUE_PT = "#1f87bf"
BLUE_LN = "#3a86ab"
BAND = "#d8e8f2"
ORANGE_PT = "#f3b168"
ORANGE_LN = "#e8aa6c"
GREY_PT = "#d4d4d4"
GREEN = "#b3d599"
INK = "#262626"

fig = plt.figure(figsize=(12.79, 10.66), dpi=100)
W, H = 1279, 1066
col_left = [66, 497, 929]
row_top = [25, 293, 562, 830]
aw, ah = 342, 188

panels = [
    (None, None, None, None),
    (b_pts, b_grey, b_fit_z, b_fit_s),
    (c_pts, c_grey, c_fit_z, c_fit_s),
    (d_pts, d_grey, d_fit_z, d_fit_s),
    (e_pts, e_grey, e_fit_z, e_fit_s),
    (f_pts, f_grey, f_fit_z, f_fit_s),
    (g_pts, g_grey, g_fit_z, g_fit_s),
    (h_pts, h_grey, h_fit_z, h_fit_s),
    (i_pts, i_grey, i_fit_z, i_fit_s),
    (j_pts, j_grey, j_fit_z, j_fit_s),
    (k_pts, k_grey, k_fit_z, k_fit_s),
    (l_pts, l_grey, l_fit_z, l_fit_s),
]

for n in range(12):
    r, c = divmod(n, 3)
    ax = fig.add_axes([col_left[c] / W, 1 - (row_top[r] + ah) / H, aw / W, ah / H])

    if n == 0:
        pts = pd.DataFrame([(z, s) for z, col in zip(a_pos, a_sizes) for s in col], columns=["z", "s"])
        grey = pd.DataFrame(a_grey, columns=["z", "s"])
        fit = pd.DataFrame({"z": a_fit_z, "s": a_fit_s})
        pcol, lcol = ORANGE_PT, ORANGE_LN
    else:
        p, g, fz, fs = panels[n]
        pts = pd.DataFrame(p, columns=["z", "s"])
        grey = pd.DataFrame(g, columns=["z", "s"])
        fit = pd.DataFrame({"z": fz, "s": fs})
        pcol, lcol = BLUE_PT, BLUE_LN

    ax.axhline(screen_res, color=GREEN, lw=1.2, ls=(0, (1, 2.6)), zorder=1)
    sns.scatterplot(data=grey, x="z", y="s", ax=ax, color=GREY_PT, s=5.5, linewidth=0, zorder=2)
    sns.scatterplot(data=pts, x="z", y="s", ax=ax, color=pcol, s=5.5, linewidth=0, zorder=3)
    if n > 0:
        sns.lineplot(data=fit, x="z", y="s", ax=ax, color=BAND, lw=2.6, estimator=None, sort=False, zorder=4)
    label = r"$\epsilon_n$ = (%s $\pm$ %s) mm-mrad" % (emit[n], emit_err[n])
    sns.lineplot(data=fit, x="z", y="s", ax=ax, color=lcol, lw=1.3, estimator=None, sort=False,
                 zorder=5, label=label)

    ax.set_xlim(-51.5, 129.5)
    ax.set_ylim(0, 29)
    ax.set_xticks([-50, 0, 50, 100])
    ax.set_yticks([0, 5, 10, 15, 20, 25])
    ax.tick_params(direction="in", top=True, right=True, length=4, width=0.8,
                   labelsize=10.5, colors=INK)
    ax.tick_params(axis="x", pad=6)
    ax.tick_params(axis="y", pad=5)
    for sp in ax.spines.values():
        sp.set_visible(True)
        sp.set_color(INK)
        sp.set_linewidth(0.8)
    ax.set_xlabel("Longitudinal position, object plane (mm)", fontsize=10.5, color=INK, labelpad=2)
    ax.set_ylabel("True beam size, rms (µm)", fontsize=10.5, color=INK, labelpad=1)

    if n == 0:
        ax.set_title("Plasma cell extracted", fontsize=12, fontweight="bold", pad=4)
        ax.text(0.985, 0.03, "Screen resolution", transform=ax.transAxes, ha="right", va="bottom",
                fontsize=9.5, color=GREEN)
        loc = "upper left"
    else:
        ax.set_title(r"$\Delta$ $\mathbfit{x}$' = %s mrad" % kicks[n], fontsize=12, fontweight="bold", pad=4)
        loc = "upper right"

    leg = ax.legend(loc=loc, fontsize=10, frameon=True, fancybox=False, framealpha=1,
                    edgecolor=INK, handlelength=3.0, handletextpad=0.5, borderpad=0.4,
                    borderaxespad=0.45)
    leg.get_frame().set_linewidth(0.9)
    leg.set_zorder(10)

    ax.text(-0.165, 1.02, letters[n], transform=ax.transAxes, ha="left", va="top",
            fontsize=13.5, fontweight="bold", color="black")

fig.savefig("out.png", dpi=100)
